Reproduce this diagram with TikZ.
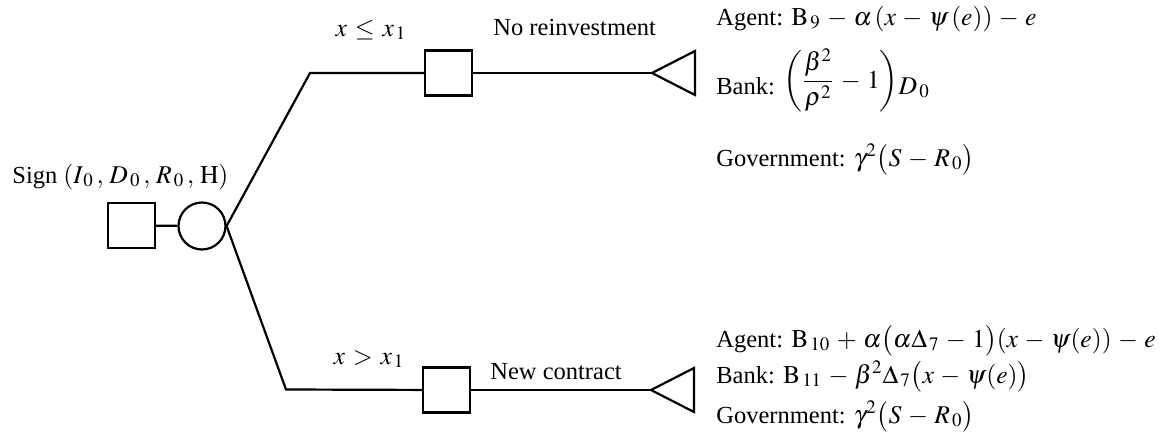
\documentclass[tikz,border=0pt]{standalone}
\usepackage{mathptmx}
\usepackage[no-math]{fontspec}
\setmainfont{Liberation Serif}
\usepackage{amsmath}
% math set slightly larger than the text
\newcommand{\mth}[1]{{\fontsize{12.8}{15}\selectfont\medmuskip=4.5mu plus 2mu\thickmuskip=5.5mu plus 2mu$#1$}}
\begin{document}
\begin{tikzpicture}[x=0.5pt,y=-0.5pt,
  every node/.style={font=\fontsize{12.25}{15}\selectfont},
  edge/.style={line width=1.1pt, line join=miter},
  decision/.style={draw, line width=1.1pt, minimum width=23.5pt, minimum height=22.5pt, inner sep=0pt},
  chance/.style={draw, circle, line width=1.1pt, minimum size=23.5pt, inner sep=0pt},
  txt/.style={inner sep=0pt, anchor=base west},
  lbl/.style={inner sep=0pt, anchor=base}]
\useasboundingbox (0,0) rectangle (1168,445);

% root: signing decision and chance node
\node[txt] (sign) at (12,183) {Sign \mth{(I_{\,0}\,,\,D_{\,0}\,,\,R_{\,0}\,,\,\mathrm{H})}};
\node[decision] (d0) at (131.5,225.5) {};
\node[chance] (c0) at (202,226) {};
\draw[edge] (d0) -- (c0);

% branch corners
\coordinate (up) at (310,73);
\coordinate (lo) at (286,389.5);

% second-stage decisions
\node[decision] (d1) at (448.5,73) {};
\node[decision] (d2) at (446.5,390) {};

% terminal tips
\coordinate (t1) at (652,73);
\coordinate (t2) at (651,390);

\draw[edge] (c0.east) -- (up) -- (d1);
\draw[edge] (c0.east) -- (lo) -- (d2);
\draw[edge] (d1) -- (t1);
\draw[edge] (d2) -- (t2);
\draw[edge] (t1) -- ++(43,-22) -- ++(0,44) -- cycle;
\draw[edge] (t2) -- ++(43,-22) -- ++(0,44) -- cycle;

% branch labels
\node[lbl] (cond1) at (371,36) {\mth{x\le x_{\,1}}};
\node[txt] (act1) at (493,35) {No reinvestment};
\node[lbl] (cond2) at (369,364) {\mth{x>x_{\,1}}};
\node[txt] (act2) at (490,379) {New contract};

% payoffs, upper outcome
\node[txt] (ag1) at (716,25) {Agent: \mth{\mathrm{B}_{\,9}-\alpha\,(x-\psi\,(e))-e}};
\node[txt] (bk1) at (716,94) {Bank: \raisebox{3pt}{\mth{\left(\dfrac{\beta^{2}}{\rho^{2}}-1\right)}}\mth{D_{\,0}}};
\node[txt] (gv1) at (716,166) {Government: \mth{\gamma^{2}\bigl(S-R_{\,0}\bigr)}};

% payoffs, lower outcome
\node[txt] (ag2) at (716,347) {Agent: \mth{\mathrm{B}_{\,10}+\alpha\bigl(\alpha\Delta_{\,7}-1\bigr)(x-\psi(e))-e}};
\node[txt] (bk2) at (716,383) {Bank: \mth{\mathrm{B}_{\,11}-\beta^{2}\Delta_{\,7}\bigl(x-\psi(e)\bigr)}};
\node[txt] (gv2) at (716,423) {Government: \mth{\gamma^{2}\bigl(S-R_{\,0}\bigr)}};
\end{tikzpicture}
\end{document}
